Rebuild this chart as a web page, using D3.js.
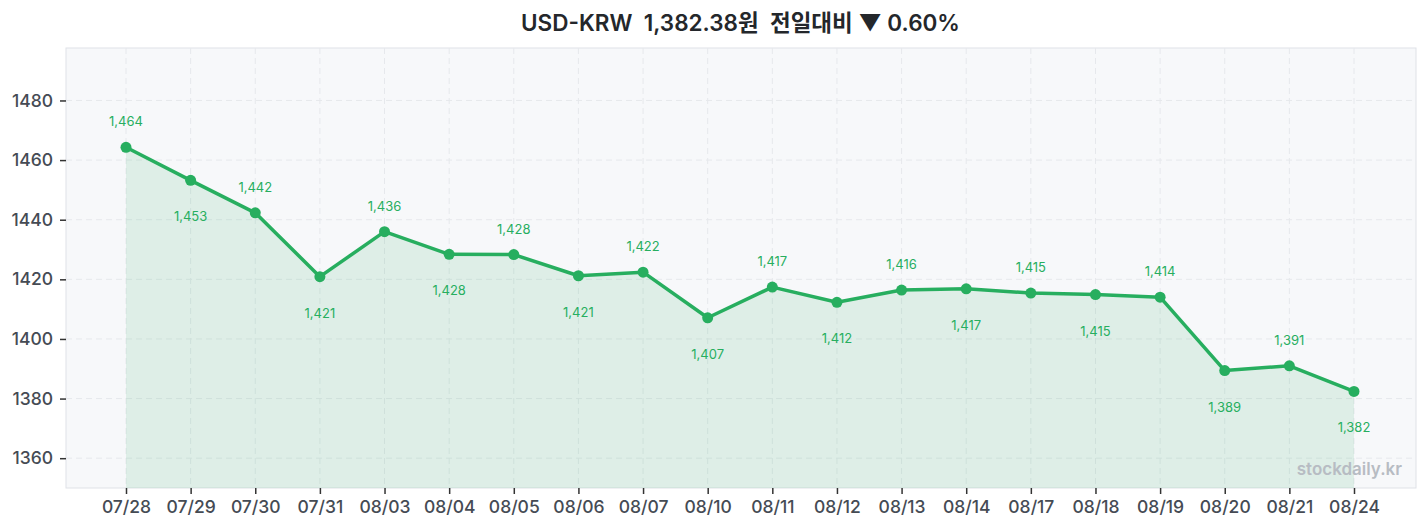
<!DOCTYPE html>
<html><head><meta charset="utf-8">
<script src="https://cdn.jsdelivr.net/npm/d3@7"></script>
<style>
html,body{margin:0;padding:0;background:#fff;}
svg{display:block;font-family:Inter,"Noto Sans CJK KR",sans-serif;}
</style></head><body>
<svg id="c" width="1427" height="529"></svg>
<script>
const dates = ["07/28","07/29","07/30","07/31","08/03","08/04","08/05","08/06","08/07","08/10","08/11","08/12","08/13","08/14","08/17","08/18","08/19","08/20","08/21","08/24"];
const rates = [1464.3,1453.2,1442.3,1420.9,1436.0,1428.4,1428.3,1421.2,1422.4,1407.1,1417.4,1412.3,1416.4,1416.8,1415.4,1414.9,1414.0,1389.4,1391.0,1382.38];
const yTicks = [1360,1380,1400,1420,1440,1460,1480];
const titleText = "USD-KRW  1,382.38원  전일대비 ▼ 0.60%";

const svg = d3.select("#c");
const W = 1427, H = 529;
const plot = {l:66, r:1416, t:48, b:488};
const green = "#27ae5f";

const x = d3.scalePoint().domain(dates).range([126, 1354]);
const y = d3.scaleLinear().domain([1350, 1497.6]).range([plot.b, plot.t]);

// background
svg.append("rect").attr("x",plot.l).attr("y",plot.t).attr("width",plot.r-plot.l).attr("height",plot.b-plot.t)
  .attr("fill","#f7f8fa").attr("stroke","#dfe2e7").attr("stroke-width",1);

// grid
const g = svg.append("g");
g.selectAll(".hg").data(yTicks).join("line")
  .attr("x1",plot.l).attr("x2",plot.r).attr("y1",d=>y(d)).attr("y2",d=>y(d))
  .attr("stroke","#e6e8ec").attr("stroke-dasharray","6,4").attr("stroke-width",1);
g.selectAll(".vg").data(dates).join("line")
  .attr("x1",d=>x(d)).attr("x2",d=>x(d)).attr("y1",plot.t).attr("y2",plot.b)
  .attr("stroke","#e6e8ec").attr("stroke-dasharray","6,4").attr("stroke-width",1);

const pts = dates.map((d,i)=>({d, v:rates[i], i}));

// area
svg.append("path").datum(pts)
  .attr("d", d3.area().x(p=>x(p.d)).y0(plot.b).y1(p=>y(p.v)))
  .attr("fill","rgba(39,174,95,0.12)");

// line
svg.append("path").datum(pts)
  .attr("d", d3.line().x(p=>x(p.d)).y(p=>y(p.v)))
  .attr("fill","none").attr("stroke",green).attr("stroke-width",3.5).attr("stroke-linejoin","round");

// dots
svg.selectAll(".dot").data(pts).join("circle")
  .attr("cx",p=>x(p.d)).attr("cy",p=>y(p.v)).attr("r",5.5).attr("fill",green);

// labels
svg.selectAll(".lbl").data(pts).join("text")
  .attr("x",p=>x(p.d)).attr("y",p=>y(p.v) + (p.i%2===0 ? -26 : 36))
  .attr("text-anchor","middle").attr("dominant-baseline","central")
  .attr("font-size",13).attr("fill","#27ae5f")
  .text(p=>d3.format(",.0f")(Math.round(p.v)));

// axes
const xAxis = svg.append("g").attr("transform",`translate(0,${plot.b})`)
  .call(d3.axisBottom(x).tickSize(6).tickPadding(7));
xAxis.select(".domain").remove();
xAxis.selectAll("line").attr("stroke","#333").attr("stroke-width",1.5);
xAxis.selectAll("text").attr("font-size",17.5).attr("font-weight",500).attr("fill","#454b54").attr("font-family","Inter,sans-serif");

const yAxis = svg.append("g").attr("transform",`translate(${plot.l},0)`)
  .call(d3.axisLeft(y).tickValues(yTicks).tickSize(6).tickPadding(7).tickFormat(d3.format("d")));
yAxis.select(".domain").remove();
yAxis.selectAll("line").attr("stroke","#333").attr("stroke-width",1.5);
yAxis.selectAll("text").attr("font-size",17.5).attr("font-weight",500).attr("fill","#454b54").attr("font-family","Inter,sans-serif");

// title
svg.append("text").attr("x",W/2+27).attr("y",22).attr("text-anchor","middle").attr("dominant-baseline","central")
  .attr("font-size",22.5).attr("font-weight",600).attr("fill","#24272b").attr("xml:space","preserve")
  .style("white-space","pre").text(titleText);

// watermark
svg.append("text").attr("x",plot.r-14).attr("y",plot.b-13).attr("text-anchor","end")
  .attr("font-size",17).attr("font-weight",600).attr("fill","#b7bcc3").text("stockdaily.kr");
</script>
</body></html>
